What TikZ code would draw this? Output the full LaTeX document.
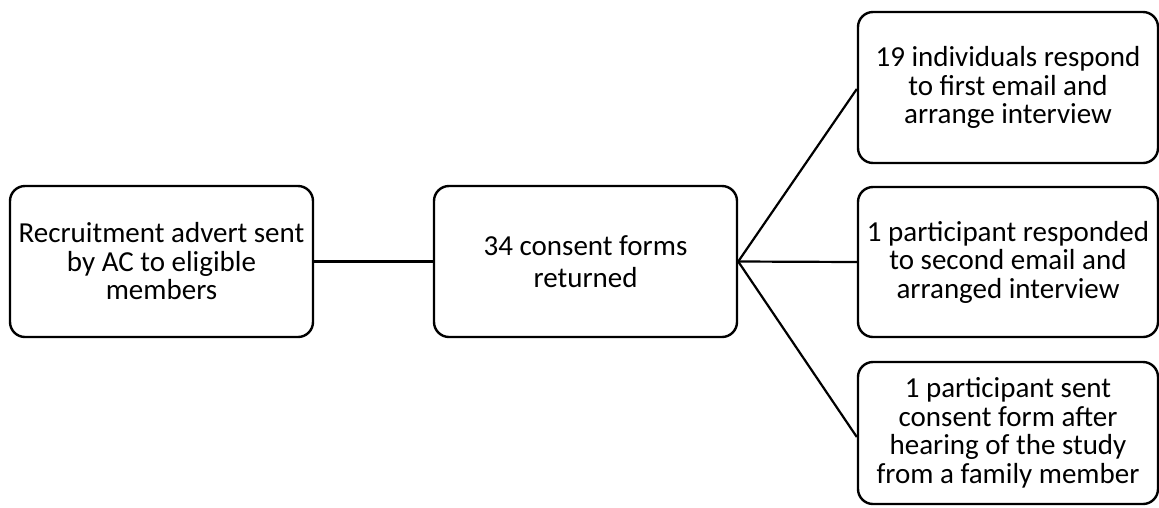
\documentclass[tikz,border=0pt]{standalone}
\usepackage{fontspec}
\setmainfont{Carlito}
\begin{document}
\begin{tikzpicture}[x=1pt,y=-1pt,
  stagebox/.style={draw=black, line width=2.4pt, rounded corners=15pt,
    align=center, inner sep=0pt, font=\fontsize{29}{28.5}\selectfont},
  link/.style={draw=black, line width=2.2pt}]
  \useasboundingbox (0,0) rectangle (1159,507);
  % stages of the recruitment flow
  \node[stagebox, minimum width=303pt, minimum height=151pt] (advert) at (161.5,261.5)
    {Recruitment advert sent\\by AC to eligible\\members};
  \node[stagebox, minimum width=303pt, minimum height=151pt,
        font=\fontsize{29}{32}\selectfont] (forms) at (585.5,261.5)
    {34 consent forms\\returned};
  \node[stagebox, minimum width=300pt, minimum height=151pt] (first) at (1008,87.5)
    {19 individuals respond\\to first email and\\arrange interview};
  \node[stagebox, minimum width=300pt, minimum height=150pt] (second) at (1008,262)
    {1 participant responded\\to second email and\\arranged interview};
  \node[stagebox, minimum width=300pt, minimum height=142pt] (family) at (1008,433)
    {1 participant sent\\consent form after\\hearing of the study\\from a family member};
  % connectors
  \draw[link] (advert.east) -- (forms.west);
  \draw[link] (forms.east) -- ([yshift=-1.5pt]first.west);
  \draw[link] (forms.east) -- (second.west);
  \draw[link] (forms.east) -- ([yshift=-4pt]family.west);
\end{tikzpicture}
\end{document}
